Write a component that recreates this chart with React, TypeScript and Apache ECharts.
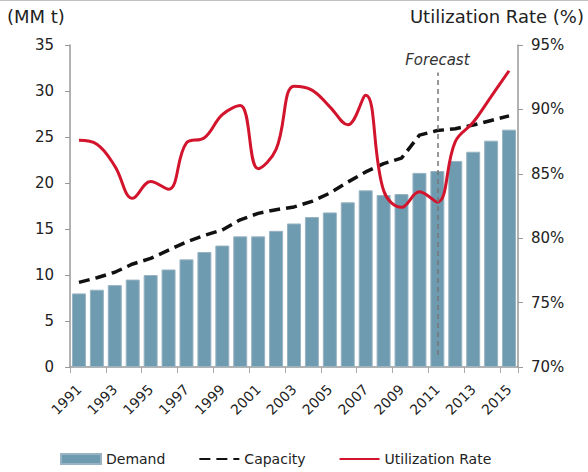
import React, { useEffect, useRef } from "react";
import * as echarts from "echarts";

const years = [
  "1991","1992","1993","1994","1995","1996","1997","1998","1999","2000",
  "2001","2002","2003","2004","2005","2006","2007","2008","2009","2010",
  "2011","2012","2013","2014","2015",
];
const demand = [
  8.0, 8.4, 8.9, 9.5, 10.0, 10.6, 11.7, 12.5, 13.2, 14.2,
  14.2, 14.8, 15.6, 16.3, 16.8, 17.9, 19.2, 18.7, 18.8, 21.1,
  21.3, 22.4, 23.4, 24.6, 25.8,
];
const capacity = [
  9.2, 9.7, 10.3, 11.2, 11.8, 12.7, 13.6, 14.3, 14.9, 16.0,
  16.7, 17.1, 17.4, 18.0, 18.9, 20.1, 21.2, 22.1, 22.7, 25.2,
  25.7, 25.9, 26.3, 26.8, 27.3,
];
const utilization = [
  87.6, 87.3, 85.6, 83.1, 84.4, 83.8, 87.4, 87.8, 89.6, 90.3,
  85.4, 86.9, 91.8, 91.5, 90.2, 88.8, 91.1, 83.7, 82.4, 83.6,
  82.8, 87.5, 89.0, 91.0, 93.0,
];
const forecastYear = "2011";

const FONT = "DejaVu Sans";

export default function App() {
  const ref = useRef<HTMLDivElement>(null);
  useEffect(() => {
    if (!ref.current) return;
    const chart = echarts.init(ref.current, undefined, { renderer: "svg" });
    chart.setOption({
      animation: false,
      backgroundColor: "#ffffff",
      textStyle: { fontFamily: FONT },
      grid: { left: 70, right: 70, top: 45, bottom: 105, containLabel: false },
      graphic: [
        {
          type: "line",
          shape: { x1: 0, y1: 0.5, x2: 588, y2: 0.5 },
          style: { stroke: "#c0c0c0", lineWidth: 1 },
        },
        {
          type: "text",
          left: 7,
          top: 7,
          style: { text: "(MM t)", fontSize: 18, fontFamily: FONT, fill: "#222" },
        },
        {
          type: "text",
          right: 4,
          top: 7,
          style: { text: "Utilization Rate (%)", fontSize: 18, fontFamily: FONT, fill: "#222" },
        },
      ],
      legend: {
        bottom: 1,
        left: 55,
        itemWidth: 40,
        itemHeight: 10,
        itemGap: 33,
        textStyle: { fontSize: 14, fontFamily: FONT, color: "#222" },
        data: [
          { name: "Demand", icon: "rect" },
          { name: "Capacity", itemStyle: { opacity: 0 } },
          { name: "Utilization Rate", itemStyle: { opacity: 0 } },
        ],
      },
      xAxis: {
        type: "category",
        data: years,
        axisLine: { lineStyle: { color: "#999", width: 1.5 } },
        axisTick: { show: true, length: 6, lineStyle: { color: "#aaa" } },
        axisLabel: {
          interval: 1,
          rotate: 45,
          margin: 20,
          fontSize: 14,
          fontFamily: FONT,
          color: "#222",
        },
      },
      yAxis: [
        {
          type: "value",
          min: 0,
          max: 35,
          interval: 5,
          axisLine: { show: true, lineStyle: { color: "#999", width: 1.5 } },
          axisTick: { show: true, length: 5, lineStyle: { color: "#999" } },
          splitLine: { show: false },
          axisLabel: { margin: 16, fontSize: 15, fontFamily: FONT, color: "#222" },
        },
        {
          type: "value",
          min: 70,
          max: 95,
          interval: 5,
          axisLine: { show: true, lineStyle: { color: "#999", width: 1.5 } },
          axisTick: { show: true, length: 5, lineStyle: { color: "#999" } },
          splitLine: { show: false },
          axisLabel: {
            margin: 13,
            fontSize: 15,
            fontFamily: FONT,
            color: "#222",
            formatter: "{value}%",
          },
        },
      ],
      series: [
        {
          name: "Demand",
          type: "bar",
          data: demand,
          barCategoryGap: "22%",
          itemStyle: { color: "#6f9bb0", borderColor: "#98b3c1", borderWidth: 1 },
          markLine: {
            silent: true,
            symbol: "none",
            lineStyle: { color: "#777", type: [5, 4], width: 1.5 },
            label: {
              show: true,
              position: "end",
              formatter: "Forecast",
              fontStyle: "italic",
              fontSize: 15,
              fontFamily: FONT,
              color: "#333",
              distance: 5,
            },
            data: [[{ coord: [forecastYear, 1.3] }, { coord: [forecastYear, 32] }]],
          },
        },
        {
          name: "Capacity",
          type: "line",
          data: capacity,
          symbol: "none",
          lineStyle: { color: "#111", width: 3.5, type: [11, 6] },
          itemStyle: { color: "#111" },
        },
        {
          name: "Utilization Rate",
          type: "line",
          yAxisIndex: 1,
          data: utilization,
          symbol: "none",
          smooth: 0.4,
          lineStyle: { color: "#d2142c", width: 3 },
          itemStyle: { color: "#d2142c" },
        },
      ],
    });
    return () => chart.dispose();
  }, []);
  return (
    <div
      ref={ref}
      style={{ position: "fixed", left: 0, top: 0, width: 588, height: 472 }}
    />
  );
}
